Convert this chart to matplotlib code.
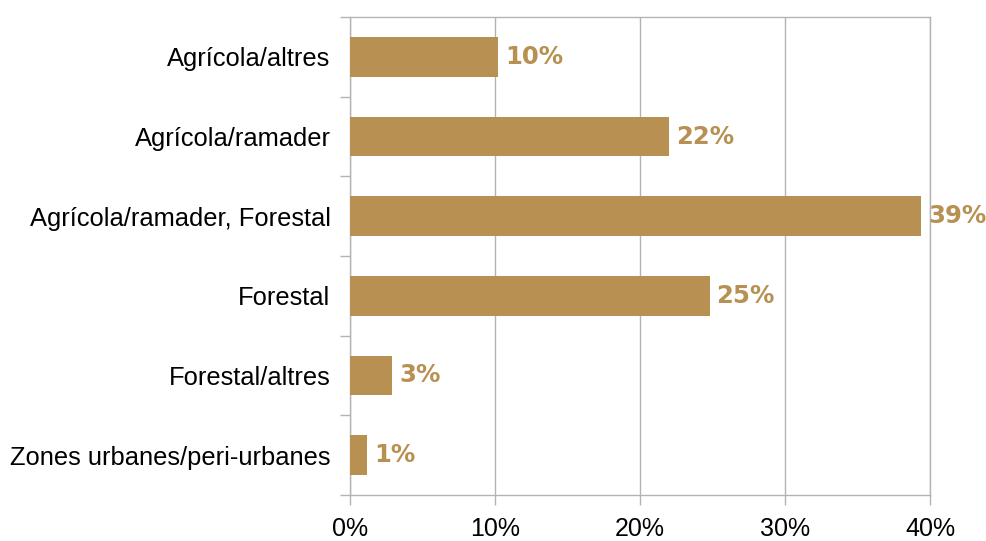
import numpy as np
import matplotlib.pyplot as plt
from matplotlib.ticker import FixedLocator

categories = ['Agrícola/altres', 'Agrícola/ramader', 'Agrícola/ramader, Forestal',
              'Forestal', 'Forestal/altres', 'Zones urbanes/peri-urbanes']
values = [10.2, 22.0, 39.4, 24.8, 2.9, 1.2]
labels = ['10%', '22%', '39%', '25%', '3%', '1%']
xticks = [0, 10, 20, 30, 40]

bar_color = '#b89152'
grid_color = '#b3b3b3'

fig = plt.figure(figsize=(9.87, 5.41), dpi=100)
ax = fig.add_axes([350/987, 1-495/541, 580/987, 478/541])

y = np.arange(len(categories))
ax.barh(y, values, height=0.5, color=bar_color, zorder=3)
ax.set_ylim(len(categories) - 0.5, -0.5)
ax.set_xlim(0, 40)

for yi, v, lab in zip(y, values, labels):
    ax.annotate(lab, (v, yi), xytext=(5, 0), textcoords='offset points',
                va='center', ha='left', fontsize=17.6, fontweight='bold',
                color=bar_color, family='DejaVu Sans', zorder=4)

# axes styling
ax.set_xticks(xticks)
ax.set_xticklabels([f'{t}%' for t in xticks], family='Liberation Sans', fontsize=18)
ax.set_yticks(y)
ax.set_yticklabels(categories, family='Liberation Sans', fontsize=18.4)
ax.tick_params(axis='y', which='major', length=0, pad=14)
ax.yaxis.set_minor_locator(FixedLocator(np.arange(-0.5, len(categories), 1)))
ax.tick_params(axis='y', which='minor', length=7.2, width=1, color=grid_color)
ax.tick_params(axis='x', length=7.2, width=1, color=grid_color, pad=8.5)

ax.grid(axis='x', color=grid_color, linewidth=1, zorder=0)
for s in ax.spines.values():
    s.set_color(grid_color)
    s.set_linewidth(1)

fig.savefig('out.png', dpi=100)
